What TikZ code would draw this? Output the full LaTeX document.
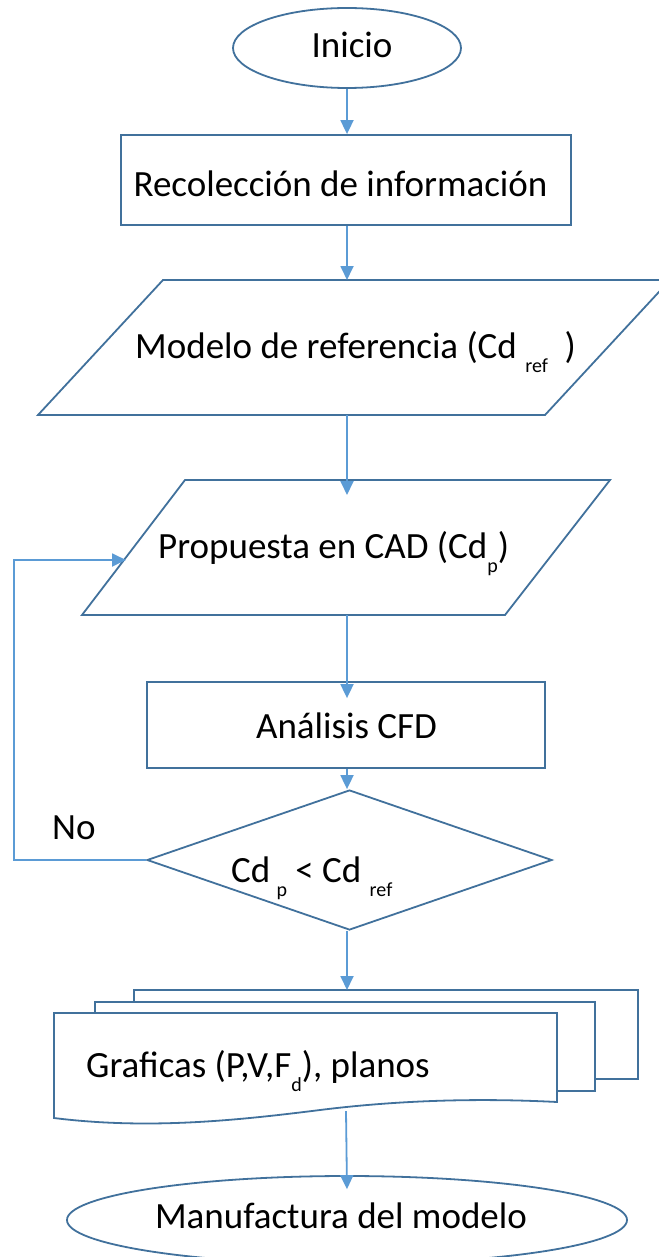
\documentclass[tikz,border=0pt]{standalone}
\usepackage{fontspec}
\setmainfont{Carlito}
\usetikzlibrary{shapes.geometric,arrows.meta}
\definecolor{boxblue}{HTML}{41719C}
\definecolor{arrblue}{HTML}{5B9BD5}
\newcommand{\sbx}[1]{\raisebox{-14pt}{\fontsize{20}{22}\selectfont #1}}
\begin{document}
\begin{tikzpicture}[x=1pt,y=-1pt,
  shapeline/.style={draw=boxblue,line width=1.8pt,fill=white,inner sep=0pt},
  txt/.style={font=\fontsize{37}{40}\selectfont,inner sep=0pt},
  ctxt/.style={txt,anchor=base},
  ltxt/.style={txt,anchor=base west},
  arr/.style={draw=arrblue,line width=1.8pt,-{Triangle[length=14pt,width=13pt]}},
  loopline/.style={draw=arrblue,line width=1.8pt}]
\useasboundingbox (0,0) rectangle (658,1257);
% Inicio
\node[shapeline,ellipse,minimum width=228pt,minimum height=80pt] (inicio) at (347,48) {};
\node[ctxt] (iniciot) at (352,58) {Inicio};
% Recoleccion
\node[shapeline,rectangle,minimum width=450pt,minimum height=90pt] (recol) at (346,180) {};
\node[ctxt] (recolt) at (340.5,197) {Recolección de información};
% Modelo parallelogram
\draw[shapeline] (163,280) -- (670,280) -- (545,415) -- (38,415) -- cycle;
\coordinate (modN) at (347,280);
\coordinate (modS) at (347,415);
\node[ltxt] (modelo) at (135,358) {Modelo de referencia (Cd \sbx{ref}\ \ )};
% Propuesta parallelogram
\draw[shapeline] (185,480) -- (610,480) -- (505,615) -- (82,615) -- cycle;
\coordinate (propN) at (347,480);
\coordinate (propS) at (347,615);
\coordinate (propW) at (126,560);
\node[ltxt] (prop) at (158,558) {Propuesta en CAD (Cd\sbx{p})};
% Analisis
\node[shapeline,rectangle,minimum width=398pt,minimum height=86pt] (anal) at (346,725) {};
\node[ctxt] (analt) at (346.5,738) {Análisis CFD};
% Decision diamond
\node[shapeline,diamond,minimum width=405pt,minimum height=140pt] (dec) at (349.5,860) {};
\node[ltxt] (dectxt) at (231,882) {Cd\,\sbx{p} < Cd \sbx{ref}};
\node[ltxt] (no) at (52,839) {No};
% Document stack
\draw[shapeline] (134,990) rectangle (638,1079);
\draw[shapeline] (95,1002) rectangle (595,1091);
\draw[shapeline] (54,1013) -- (557,1013) -- (557,1102)
  .. controls (480,1098) and (400,1100) .. (320,1110)
  .. controls (240,1120) and (150,1130) .. (54,1118) -- cycle;
\coordinate (docN) at (347,990);
\coordinate (docS) at (346,1111);
\node[ltxt] (graf) at (86,1077) {Graficas (P,V,F\sbx{d}), planos};
% Manufactura
\node[shapeline,ellipse,minimum width=560pt,minimum height=88pt] (manuf) at (347,1220) {};
\node[ctxt] (manuft) at (341,1228) {Manufactura del modelo};
% Connectors
\draw[arr] (inicio.south) -- (inicio.south |- recol.north);
\draw[arr] (inicio.south |- recol.south) -- (modN);
\draw[arr] (modS) -- ([yshift=-15pt]propN);
\draw[arr] (propS) -- ([yshift=-17pt]propS |- anal.north);
\draw[arr] (propS |- anal.south) -- (propS |- dec.north);
\draw[arr] (propS |- dec.south) -- (docN);
\draw[arr] (docS) -- ([yshift=-14pt]propS |- manuf.north);
\draw[loopline,-{Triangle[length=14pt,width=13pt]}] (dec.west) -- (14,860) -- (14,560) -- (propW);
\end{tikzpicture}
\end{document}
